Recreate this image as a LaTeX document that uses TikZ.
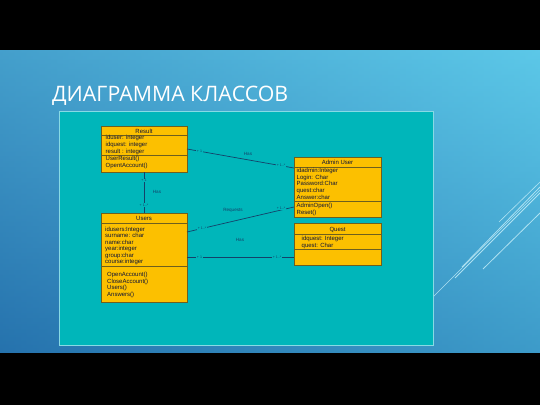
\documentclass[tikz,border=0pt]{standalone}
\usepackage{fontspec}
\setmainfont{Liberation Sans}
\newfontfamily\titlefont{Open Sans}
\usetikzlibrary{calc}
\definecolor{bgtop}{RGB}{92,200,232}
\definecolor{bgbot}{RGB}{36,118,176}
\definecolor{bgleft}{RGB}{40,110,170}
\definecolor{panel}{RGB}{0,182,186}
\definecolor{panelborder}{RGB}{135,218,228}
\definecolor{gold}{RGB}{252,192,0}
\definecolor{goldborder}{RGB}{110,95,30}
\definecolor{umltext}{RGB}{15,20,55}
\definecolor{conn}{RGB}{20,65,105}
\definecolor{deco}{RGB}{200,240,250}
\tikzset{
  umlbox/.style={draw=goldborder, fill=gold, line width=0.6pt, inner sep=0pt, outer sep=0pt, anchor=north west},
  umlsep/.style={draw=goldborder, line width=0.6pt},
  umlitem/.style={font=\fontsize{6}{6.5}\selectfont, text=umltext, inner sep=0pt, anchor=base west},
  umlhead/.style={font=\fontsize{6}{6.5}\selectfont, text=umltext, inner sep=0pt, anchor=base},
  assoc/.style={draw=conn, line width=0.7pt},
  mult/.style={font=\fontsize{3.6}{4}\selectfont, text=conn, fill=panel, inner sep=0.6pt},
  rolelbl/.style={font=\fontsize{4.6}{5}\selectfont, text=conn, inner sep=0pt},
  decoline/.style={draw=deco, line width=0.8pt, opacity=0.8}
}
\begin{document}
\begin{tikzpicture}[x=1pt,y=-1pt]
\useasboundingbox (0,0) rectangle (540,405);
% background
\shade[top color=bgtop, bottom color=bgbot] (0,50) rectangle (540,353);
\shade[left color=bgleft, right color=bgtop, opacity=0.45] (0,50) rectangle (540,353);
\fill[black] (0,0) rectangle (540,50);
\fill[black] (0,353) rectangle (540,405);
% decorative lines
\draw[decoline, line width=0.6pt] (433,297) -- (540,190);
\draw[decoline] (462,267) -- (540,187);
\draw[decoline] (455,278) -- (540,193);
\draw[decoline] (483,269) -- (540,213);
\draw[decoline, line width=0.6pt] (499,222) -- (540,182);
% title
\node[anchor=base west, inner sep=0pt, text=white, font=\titlefont\fontsize{21.3}{23}\selectfont] (title) at (52,101) {ДИАГРАММА КЛАССОВ};
% panel
\node[draw=panelborder, fill=panel, line width=1.2pt, minimum width=374pt, minimum height=234pt, inner sep=0pt, anchor=north west] (panel) at (59,111) {};

% Result
\node[umlbox, minimum width=86pt, minimum height=46pt] (result) at (101,126) {};
\draw[umlsep] ([yshift=-9pt]result.north west) -- ([yshift=-9pt]result.north east);
\draw[umlsep] ([yshift=-29pt]result.north west) -- ([yshift=-29pt]result.north east);
\node[umlhead] (resulth) at (144,133) {Result};
\node[umlitem] (r1) at (105.5,139.5) {iduser: integer};
\node[umlitem] (r2) at (105.5,146.2) {idquest: integer};
\node[umlitem] (r3) at (105.5,153) {result : integer};
\node[umlitem] (r4) at (105.5,160.5) {UserResult()};
\node[umlitem] (r5) at (105.5,167.5) {OpentAccount()};

% Users
\node[umlbox, minimum width=86pt, minimum height=89pt] (users) at (101,213) {};
\draw[umlsep] ([yshift=-10pt]users.north west) -- ([yshift=-10pt]users.north east);
\draw[umlsep] ([yshift=-53pt]users.north west) -- ([yshift=-53pt]users.north east);
\node[umlhead] (usersh) at (144,220) {Users};
\node[umlitem] (u1) at (105,231) {idusers:Integer};
\node[umlitem] (u2) at (105,237.5) {surname: char};
\node[umlitem] (u3) at (105,244) {name:char};
\node[umlitem] (u4) at (105,250.5) {year:integer};
\node[umlitem] (u5) at (105,257) {group:char};
\node[umlitem] (u6) at (105,263) {course:integer};
\node[umlitem] (u7) at (107,276.5) {OpenAccount()};
\node[umlitem] (u8) at (107,283) {CloseAccount()};
\node[umlitem] (u9) at (107,289.5) {Users()};
\node[umlitem] (u10) at (107,296) {Answers()};

% Admin User
\node[umlbox, minimum width=87pt, minimum height=60pt] (admin) at (294,157) {};
\draw[umlsep] ([yshift=-10pt]admin.north west) -- ([yshift=-10pt]admin.north east);
\draw[umlsep] ([yshift=-44pt]admin.north west) -- ([yshift=-44pt]admin.north east);
\node[umlhead] (adminh) at (337.5,164) {Admin User};
\node[umlitem] (a1) at (296.5,172.5) {idadmin:Integer};
\node[umlitem] (a2) at (296.5,179) {Login: Char};
\node[umlitem] (a3) at (296.5,185.8) {Password:Char};
\node[umlitem] (a4) at (296.5,192.5) {quest:char};
\node[umlitem] (a5) at (296.5,199) {Answer:char};
\node[umlitem] (a6) at (296.5,207) {AdminOpen()};
\node[umlitem] (a7) at (296.5,214) {Reset()};

% Quest
\node[umlbox, minimum width=87pt, minimum height=42pt] (quest) at (294,223) {};
\draw[umlsep] ([yshift=-11pt]quest.north west) -- ([yshift=-11pt]quest.north east);
\draw[umlsep] ([yshift=-26pt]quest.north west) -- ([yshift=-26pt]quest.north east);
\node[umlhead] (questh) at (337.5,231) {Quest};
\node[umlitem] (q1) at (301.5,240.5) {idquest: Integer};
\node[umlitem] (q2) at (301.5,247) {quest: Char};

% connectors
\draw[assoc] (result.east) -- ($(admin.north west)+(0,11)$) coordinate (adm1);
\draw[assoc] (result.south) -- (users.north);
\draw[assoc] ($(users.north east)+(0,19)$) coordinate (us1) -- ($(admin.north west)+(0,50)$) coordinate (adm2);
\draw[assoc] ($(users.north east)+(0,44)$) coordinate (us2) -- (quest.west |- us2);

% multiplicities and roles
\node[mult] (m1a) at (199.5,151) {+ 1};
\node[mult] (m1b) at (281,165.5) {+ 1..*};
\node[rolelbl] (h1) at (248,154) {Has};
\node[mult] (m2a) at (144,180.5) {+ 1};
\node[mult] (m2b) at (144,205) {+ 1..*};
\node[rolelbl] (h2) at (157,191.5) {Has};
\node[mult] (m3a) at (202,228.5) {+ 1..*};
\node[mult] (m3b) at (281,208.5) {+ 1..*};
\node[rolelbl] (rq) at (233,210.5) {Requests};
\node[mult] (m4a) at (199.5,257.5) {+ 1};
\node[mult] (m4b) at (277,257.5) {+ 1..*};
\node[rolelbl] (h4) at (240,240) {Has};
\end{tikzpicture}
\end{document}
